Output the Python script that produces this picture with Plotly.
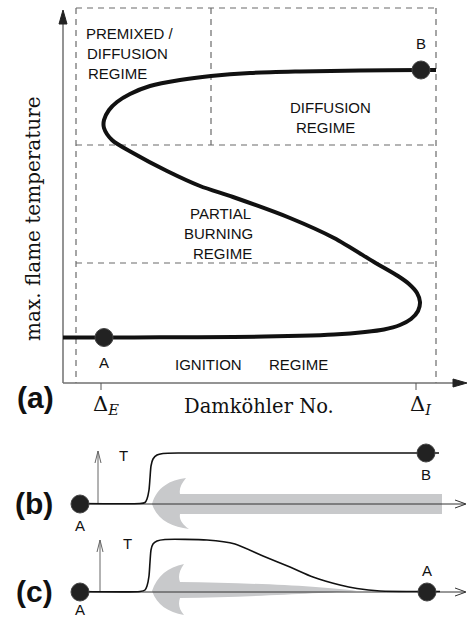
import plotly.graph_objects as go

# ---------------- schematic data (pixel-like data units, y grows downward) ----------------
# S-curve of panel (a): Damkohler position vs. max flame temperature position
s_curve_x = [63, 104, 160, 234, 300, 334, 365, 384, 400, 411, 418, 420, 417, 409, 398, 374, 334, 290, 233, 200,
             167, 133, 112, 104, 104, 109, 117, 130, 150, 180, 211, 250, 300, 360, 421, 436]
s_curve_y = [337.5, 337.5, 337.3, 337, 335.8, 334.5, 332, 329.5, 325, 319, 311, 302, 293, 284, 276, 262, 238, 218, 197, 186,
             171, 153, 140, 128, 120, 110, 102, 94, 86, 80, 76, 73, 71.5, 70.5, 70, 70]

# temperature profiles of panels (b) and (c)
prof_b_x = [80, 140, 145, 147, 149, 150, 151, 153, 157, 163, 180, 300, 439]
prof_b_y = [503.5, 503.5, 502.5, 499, 490, 478, 466, 459, 455, 453.5, 453, 453, 453]
prof_c_x = [80, 140, 145, 147, 149, 150, 151, 153, 157, 165, 207, 235, 263, 290, 313, 340, 357, 380, 427, 440]
prof_c_y = [591.5, 591.5, 590, 586, 576, 562, 550, 544, 541, 539.5, 540, 544, 556, 567, 577, 585, 588.5, 591, 591.5, 591.5]

# marked states
points_x = [104, 421, 80, 426, 80, 427]
points_y = [337.5, 70, 504, 453, 592, 592]
point_labels = ["A", "B", "A", "B", "A", "A"]
label_x = [104, 421, 80, 426, 80, 427]
label_y = [362, 43, 525, 474, 609, 570]

# regime boxes (dashed)
box_left, box_right, box_top, axis_y = 76, 436, 8, 383
split_y1, split_y2, split_x = 145, 263, 211

regime_texts = ["PREMIXED /", "DIFFUSION", "REGIME", "DIFFUSION", "REGIME",
                "PARTIAL", "BURNING", "REGIME", "IGNITION", "REGIME"]
regime_x = [84, 85, 86, 330, 325, 220, 218, 222, 208, 298]
regime_y = [33, 53, 73, 107, 127, 213, 233, 253, 364, 364]
regime_anchor = ["left", "left", "left", "center", "center", "center", "center", "center", "center", "center"]

tick_x = [101, 416]
tick_labels = ["Δ<sub><i>E</i></sub>", "Δ<sub><i>I</i></sub>"]

fig = go.Figure()

SANS = "Liberation Sans, Arial, sans-serif"
SERIF = "DejaVu Serif, serif"
DASH = "6px,5px"
GREY = "#6a6a6a"

shapes = []
def line(x0, y0, x1, y1, color=GREY, width=1.2, dash="solid"):
    shapes.append(dict(type="line", xref="x", yref="y", x0=x0, y0=y0, x1=x1, y1=y1,
                       line=dict(color=color, width=width, dash=dash), layer="below"))

def path(d, fill=None, color=None, width=0):
    shapes.append(dict(type="path", xref="x", yref="y", path=d,
                       fillcolor=fill if fill else "rgba(0,0,0,0)",
                       line=dict(color=color if color else "rgba(0,0,0,0)", width=width), layer="below"))

# dashed regime boxes
line(box_left, box_top, box_right, box_top, dash=DASH)
line(box_left, box_top, box_left, axis_y, dash=DASH)
line(box_right, box_top, box_right, axis_y, dash=DASH)
line(box_left, split_y1, box_right, split_y1, dash=DASH)
line(box_left, split_y2, box_right, split_y2, dash=DASH)
line(split_x, box_top, split_x, split_y1, dash=DASH)

# axes of (a)
line(63, 20, 63, axis_y, color="#707070", width=1.5)
line(63, axis_y, 458, axis_y, color="#707070", width=1.5)
path("M 63,10 L 67,24 L 59,24 Z", fill="#222", color="#222", width=1)
path("M 467,383 L 453,379 L 453,387 Z", fill="#222", color="#222", width=1)
for tx in tick_x:
    line(tx, axis_y, tx, axis_y + 7, color="#555", width=1)

# grey flow arrows
path("M 152,504 C 157,487 170,480 186,478 C 181,484 179,489 180,494 L 442,494 L 442,514 L 180,514 "
     "C 179,519 182,524 189,529 C 172,527 157,520 152,504 Z", fill="#c8c9cb")
path("M 152,591 C 157,576 168,567 184,564 C 179,571 178,577 180,582 C 250,583 320,586 357,591 "
     "C 320,593 250,597 180,598 C 178,604 179,609 184,615 C 168,612 157,605 152,591 Z", fill="#c8c9cb")

# baselines of (b), (c) with open arrow heads
for by in (504, 592):
    line(80, by, 465, by, color="#333", width=1)
    path(f"M 455,{by-4} L 466,{by} L 455,{by+4}", color="#333", width=1)
# T axes
for ax_x, y0, y1 in ((98, 504, 451), (100, 592, 540)):
    line(ax_x, y0, ax_x, y1, color="#666", width=1)
    path(f"M {ax_x-3},{y1+12} L {ax_x},{y1} L {ax_x+3},{y1+12}", color="#666", width=1)

# curves
fig.add_trace(go.Scatter(x=s_curve_x, y=s_curve_y, mode="lines",
                         line=dict(color="#111", width=4, shape="spline", smoothing=0.8), hoverinfo="skip"))
fig.add_trace(go.Scatter(x=prof_b_x, y=prof_b_y, mode="lines",
                         line=dict(color="#111", width=1.6, shape="spline", smoothing=0.6), hoverinfo="skip"))
fig.add_trace(go.Scatter(x=prof_c_x, y=prof_c_y, mode="lines",
                         line=dict(color="#111", width=1.6, shape="spline", smoothing=0.6), hoverinfo="skip"))
fig.add_trace(go.Scatter(x=points_x, y=points_y, mode="markers",
                         marker=dict(color="#222", size=18, line=dict(color="#444", width=1)), hoverinfo="skip"))

ann = []
for t, x, y in zip(point_labels, label_x, label_y):
    ann.append(dict(x=x, y=y, text=t, font=dict(family=SANS, size=15, color="#111")))
for t, x, y, a in zip(regime_texts, regime_x, regime_y, regime_anchor):
    ann.append(dict(x=x, y=y, text=t, xanchor=a, font=dict(family=SANS, size=15, color="#111")))
ann.append(dict(x=123, y=455, text="T", font=dict(family=SANS, size=15, color="#111")))
ann.append(dict(x=127, y=543, text="T", font=dict(family=SANS, size=15, color="#111")))
for t, x, y in (("(a)", 35, 397), ("(b)", 34, 503), ("(c)", 34, 591)):
    ann.append(dict(x=x, y=y, text=f"<b>{t}</b>", font=dict(family=SANS, size=30, color="#111")))
ann.append(dict(x=106, y=405, text=tick_labels[0], font=dict(family=SERIF, size=21, color="#111")))
ann.append(dict(x=421, y=405, text=tick_labels[1], font=dict(family=SERIF, size=21, color="#111")))
ann.append(dict(x=259, y=406, text="Damköhler No.", font=dict(family=SERIF, size=19.5, color="#111")))
ann.append(dict(x=33, y=219, text="max. flame temperature", textangle=-90,
                font=dict(family=SERIF, size=20, color="#111")))
for a in ann:
    a.setdefault("xanchor", "center")
    a.update(xref="x", yref="y", showarrow=False, yanchor="middle")

fig.update_layout(
    width=468, height=618, margin=dict(l=0, r=0, t=0, b=0),
    paper_bgcolor="white", plot_bgcolor="white", showlegend=False,
    xaxis=dict(range=[0, 468], visible=False, fixedrange=True),
    yaxis=dict(range=[618, 0], visible=False, fixedrange=True),
    shapes=shapes, annotations=ann,
)
fig.write_html("out.html", config={"displayModeBar": False},
               post_script="document.body.style.margin='0';")
